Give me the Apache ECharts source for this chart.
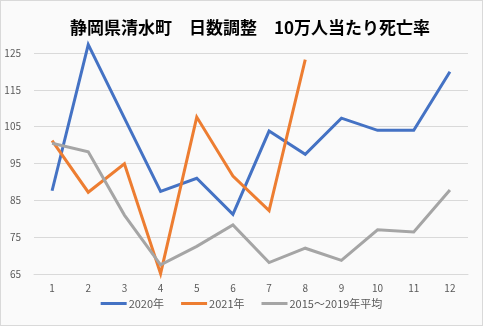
<!DOCTYPE html>
<html>
<head>
<meta charset="utf-8">
<script src="https://cdn.jsdelivr.net/npm/echarts@6/dist/echarts.min.js"></script>
<style>
  html, body { margin: 0; padding: 0; background: #ffffff; }
  #chart { width: 481px; height: 324px; border: 1px solid #d9d9d9; background: #fafafa; }
</style>
</head>
<body>
<div id="chart"></div>
<script>
// Monthly death rate per 100,000 (day-adjusted), Shimizu town, Shizuoka
const months = ['1','2','3','4','5','6','7','8','9','10','11','12'];
const rate2020 = [87.6, 127.3, 107.3, 87.4, 91.0, 81.2, 103.8, 97.5, 107.3, 104.0, 104.0, 119.9];
const rate2021 = [101.2, 87.2, 94.9, 65.1, 107.6, 91.6, 82.2, 123.2];
const rateAvg = [100.5, 98.2, 81.0, 67.5, 72.5, 78.3, 68.1, 72.0, 68.7, 77.0, 76.4, 87.8];
const seriesNames = ['2020年', '2021年', '2015～2019年平均'];
const titleText = '静岡県清水町　日数調整　10万人当たり死亡率';

const colors = ['#4472C4', '#ED7D31', '#A5A5A5'];
const font = '"Noto Sans CJK JP", "Noto Sans", sans-serif';

const chart = echarts.init(document.getElementById('chart'), null, { renderer: 'canvas' });

function lineSeries(name, data, color) {
  return {
    name: name,
    type: 'line',
    data: data,
    symbol: 'none',
    clip: false,
    lineStyle: { color: color, width: 3, join: 'miter' },
    itemStyle: { color: color }
  };
}

chart.setOption({
  backgroundColor: '#fafafa',
  animation: false,
  color: colors,
  title: {
    text: titleText,
    left: 64,
    top: 13,
    textStyle: { fontFamily: font, fontSize: 17, fontWeight: 'bold', color: '#000000' }
  },
  grid: { left: 33, right: 14, top: 52, bottom: 51 },
  xAxis: {
    type: 'category',
    data: months,
    boundaryGap: true,
    axisLine: { show: true, lineStyle: { color: '#d9d9d9', width: 1 } },
    axisTick: { show: false },
    axisLabel: { color: '#595959', fontFamily: font, fontSize: 10, margin: 9 }
  },
  yAxis: {
    type: 'value',
    min: 65,
    max: 125,
    interval: 10,
    axisLine: { show: false },
    axisTick: { show: false },
    splitLine: { lineStyle: { color: '#d9d9d9', width: 1 } },
    axisLabel: { color: '#595959', fontFamily: font, fontSize: 10, margin: 13 }
  },
  legend: {
    bottom: 11,
    left: 'center',
    itemWidth: 26,
    itemHeight: 3,
    itemGap: 17,
    icon: 'rect',
    textStyle: { color: '#595959', fontFamily: font, fontSize: 11, padding: [0, 0, 0, -3] },
    data: seriesNames
  },
  series: [
    lineSeries(seriesNames[0], rate2020, colors[0]),
    lineSeries(seriesNames[1], rate2021, colors[1]),
    lineSeries(seriesNames[2], rateAvg, colors[2])
  ]
});
</script>
</body>
</html>
